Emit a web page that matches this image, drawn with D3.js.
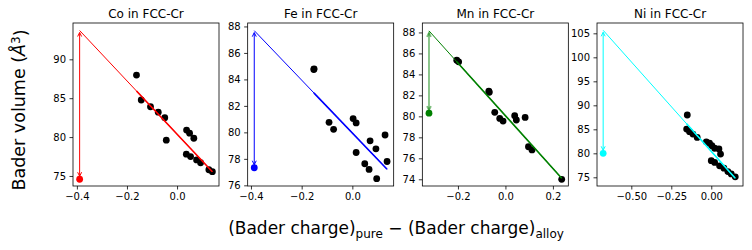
<!DOCTYPE html>
<html>
<head>
<meta charset="utf-8">
<script src="https://cdn.jsdelivr.net/npm/d3@7"></script>
<style>
  body { margin: 0; background: #fff; }
  text { font-family: "DejaVu Sans", sans-serif; fill: #000; }
</style>
</head>
<body>
<div id="chart"></div>
<script>
var svgWidth = 752;
var svgHeight = 250;

// panel data
var elements = ["Co", "Fe", "Mn", "Ni"];
var colors = ["red", "blue", "green", "cyan"];

var coX = [-0.162, -0.143, -0.106, -0.075, -0.049, -0.043, 0.038, 0.05, 0.067, 0.037, 0.054, 0.078, 0.094, 0.127, 0.141];
var coY = [87.98, 84.77, 83.9, 83.2, 82.5, 79.6, 80.9, 80.5, 79.85, 77.8, 77.5, 77.06, 76.7, 75.8, 75.55];

var feX = [-0.151, -0.152, -0.092, -0.074, 0.003, 0.015, 0.015, 0.049, 0.066, 0.07, 0.093, 0.096, 0.129, 0.137];
var feY = [84.8, 84.75, 80.76, 80.23, 81.04, 80.71, 78.48, 77.63, 77.2, 79.36, 78.76, 76.5, 79.8, 77.8];

var mnX = [-0.205, -0.197, -0.07, -0.068, -0.045, -0.024, -0.01, 0.039, 0.046, 0.083, 0.097, 0.112, 0.237];
var mnY = [85.35, 85.2, 82.4, 82.3, 80.38, 79.8, 79.55, 80.06, 79.65, 79.9, 77.1, 76.8, 74.0];

var niX = [-0.15, -0.154, -0.136, -0.115, -0.088, -0.031, -0.011, 0.004, 0.021, 0.048, 0.058, 0.0, 0.021, 0.052, 0.079, 0.104, 0.125, 0.15];
var niY = [87.98, 85.06, 84.5, 84.0, 83.3, 82.4, 82.1, 81.6, 81.05, 80.9, 79.85, 78.46, 78.1, 77.4, 76.9, 76.2, 75.7, 75.1];

var allX = [coX, feX, mnX, niX];
var allY = [coY, feY, mnY, niY];

// pure element values
var pureX = [-0.389, -0.387, -0.322, -0.676];
var pureY = [74.58, 77.33, 80.3, 80.0];

// linear fits
var fitSlope = [-34.25, -19.98, -25.13, -37.32];
var fitIntercept = [80.38, 79.95, 80.06, 80.40];

var xDomains = [[-0.4155, 0.1675], [-0.413, 0.163], [-0.35, 0.265], [-0.7145, 0.1985]];
var yDomains = [[73.71, 94.67], [75.95, 88.26], [73.36, 88.9], [73.19, 107.15]];
var xTicks = [[-0.4, -0.2, 0.0], [-0.4, -0.2, 0.0], [-0.2, 0.0, 0.2], [-0.5, -0.25, 0.0]];
var yTicks = [[75, 80, 85, 90], [76, 78, 80, 82, 84, 86, 88], [74, 76, 78, 80, 82, 84, 86, 88], [75, 80, 85, 90, 95, 100, 105]];
var xFormats = [".1f", ".1f", ".1f", ".2f"];

var panelLeft = 73;
var panelStep = 174.67;
var panelWidth = 146;
var panelTop = 23;
var panelHeight = 163;

var svg = d3.select("#chart")
  .append("svg")
  .attr("width", svgWidth)
  .attr("height", svgHeight);

elements.forEach(function(el, i) {
  var g = svg.append("g")
    .attr("transform", `translate(${panelLeft + i * panelStep}, ${panelTop})`);

  var x = d3.scaleLinear().domain(xDomains[i]).range([0, panelWidth]);
  var y = d3.scaleLinear().domain(yDomains[i]).range([panelHeight, 0]);

  var clip = g.append("clipPath").attr("id", "clip" + i)
    .append("rect").attr("width", panelWidth).attr("height", panelHeight);

  var plot = g.append("g").attr("clip-path", `url(#clip${i})`);

  // black points
  plot.selectAll("circle.pt")
    .data(d3.range(allX[i].length))
    .enter()
    .append("circle")
    .attr("class", "pt")
    .attr("cx", k => x(allX[i][k]))
    .attr("cy", k => y(allY[i][k]))
    .attr("r", 3.4)
    .attr("fill", "black");

  var xs = allX[i];
  var xmin = d3.min(xs), xmax = d3.max(xs);
  var fit = v => fitIntercept[i] + fitSlope[i] * v;

  // extrapolated fit line (thin)
  plot.append("line")
    .attr("x1", x(pureX[i])).attr("y1", y(fit(pureX[i])))
    .attr("x2", x(xmax)).attr("y2", y(fit(xmax)))
    .attr("stroke", colors[i])
    .attr("stroke-width", 1);

  // fit over data range
  plot.append("line")
    .attr("x1", x(xmin)).attr("y1", y(fit(xmin)))
    .attr("x2", x(xmax)).attr("y2", y(fit(xmax)))
    .attr("stroke", colors[i])
    .attr("stroke-width", 1.6);

  // pure point
  plot.append("circle")
    .attr("cx", x(pureX[i]))
    .attr("cy", y(pureY[i]))
    .attr("r", 3.4)
    .attr("fill", colors[i]);

  // double headed arrow
  var ax = x(pureX[i]);
  var ay1 = y(fit(pureX[i])) + 2;
  var ay2 = y(pureY[i]) - 3;
  var arrow = plot.append("g")
    .attr("stroke", colors[i])
    .attr("fill", "none")
    .attr("stroke-width", el === "Mn" ? 1.8 : 1)
    .attr("stroke-opacity", el === "Mn" ? 0.5 : 1);
  arrow.append("path")
    .attr("d", `M${ax},${ay1}L${ax},${ay2}`);
  arrow.append("path")
    .attr("d", `M${ax - 2},${ay1 + 4}L${ax},${ay1}L${ax + 2},${ay1 + 4}`);
  arrow.append("path")
    .attr("d", `M${ax - 2},${ay2 - 4}L${ax},${ay2}L${ax + 2},${ay2 - 4}`);

  // axes
  var xAxis = g.append("g")
    .attr("transform", `translate(0, ${panelHeight})`)
    .call(d3.axisBottom(x).tickValues(xTicks[i]).tickFormat(d3.format(xFormats[i]))
      .tickSize(3.5).tickPadding(3.5).tickSizeOuter(0));
  var yAxis = g.append("g")
    .call(d3.axisLeft(y).tickValues(yTicks[i]).tickFormat(d3.format("d"))
      .tickSize(3.5).tickPadding(3.5).tickSizeOuter(0));

  [xAxis, yAxis].forEach(function(a) {
    a.select(".domain").remove();
    a.selectAll("line").attr("stroke", "#000").attr("stroke-width", 0.8);
    a.selectAll("text")
      .style("font-family", "DejaVu Sans")
      .style("font-size", "10px")
      .attr("fill", "#000");
  });

  g.append("rect")
    .attr("width", panelWidth)
    .attr("height", panelHeight)
    .attr("fill", "none")
    .attr("stroke", "#000")
    .attr("stroke-width", 0.8);

  g.append("text")
    .attr("x", panelWidth / 2)
    .attr("y", -5.5)
    .attr("text-anchor", "middle")
    .style("font-size", "12px")
    .text(el + " in FCC-Cr");
});

// figure labels
var yLabel = svg.append("text")
  .attr("transform", "translate(25, 110) rotate(-90)")
  .attr("text-anchor", "middle")
  .style("font-size", "17.5px");
yLabel.append("tspan").text("Bader volume (");
yLabel.append("tspan").style("font-style", "italic").text("Å");
yLabel.append("tspan").attr("dy", "-0.45em").style("font-size", "12px").text("3");
yLabel.append("tspan").attr("dy", "0.45em").text(")");

var xLabel = svg.append("text")
  .attr("x", 396)
  .attr("y", 234)
  .attr("text-anchor", "middle")
  .style("font-size", "17px");
xLabel.append("tspan").text("(Bader charge)");
xLabel.append("tspan").attr("dy", 4).style("font-size", "12px").text("pure");
xLabel.append("tspan").attr("dy", -4).text(" − (Bader charge)");
xLabel.append("tspan").attr("dy", 4).style("font-size", "12px").text("alloy");
</script>
</body>
</html>
